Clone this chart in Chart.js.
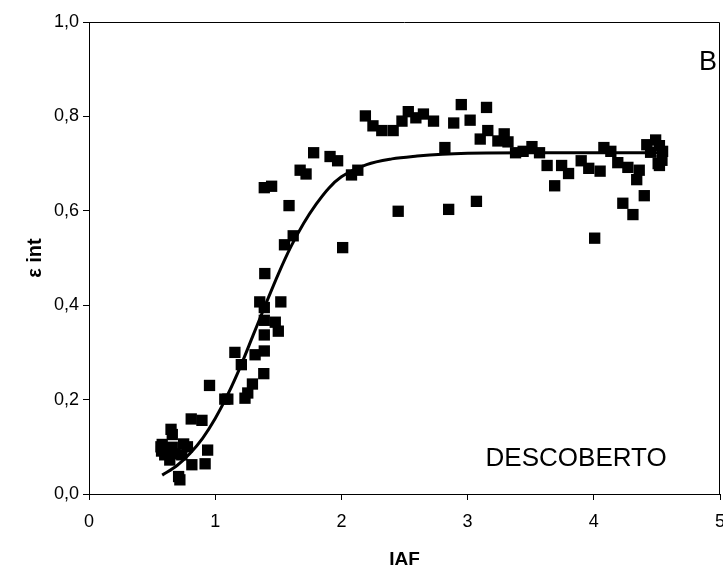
<!DOCTYPE html>
<html><head><meta charset="utf-8">
<script src="https://cdn.jsdelivr.net/npm/chart.js@4/dist/chart.umd.min.js"></script>
<style>html,body{margin:0;padding:0;background:#fff}#wrap{width:723px;height:572px}</style>
</head><body><div id="wrap"><canvas id="c" width="723" height="572"></canvas></div>
<script>
// Observed points (IAF, ε int)
const obsIaf = [0.58,0.575,0.60,0.65,0.66,0.64,0.66,0.71,0.72,0.75,0.78,0.735,0.815,0.81,0.895,0.92,0.94,0.955,0.57,0.62,0.68,
  1.076,1.10,1.156,1.207,1.236,1.258,1.295,1.316,1.353,1.385,1.389,1.389,1.389,1.389,1.393,1.389,1.447,1.476,1.50,1.52,1.549,1.585,1.618,
  1.673,1.72,1.78,1.91,1.97,2.01,2.08,2.13,2.19,2.25,2.32,2.41,2.45,2.48,2.53,2.59,2.65,2.73,2.82,2.85,2.89,2.95,3.02,3.07,3.10,3.15,3.16,
  3.24,3.29,3.32,3.38,3.44,3.51,3.57,3.63,3.69,3.745,3.80,3.90,3.96,4.007,4.05,4.08,4.135,4.19,4.23,4.27,4.31,4.34,4.36,4.40,4.42,4.45,
  4.49,4.52,4.54,4.52,4.545,4.51];
const obsEps = [0.105,0.091,0.083,0.137,0.126,0.072,0.099,0.037,0.030,0.106,0.100,0.083,0.062,0.159,0.156,0.064,0.093,0.230,0.100,0.095,0.085,
  0.201,0.201,0.300,0.274,0.203,0.214,0.233,0.295,0.407,0.255,0.303,0.337,0.368,0.395,0.467,0.649,0.652,0.364,0.345,0.407,0.528,0.611,0.547,
  0.686,0.678,0.723,0.715,0.706,0.522,0.676,0.686,0.801,0.780,0.770,0.770,0.599,0.790,0.810,0.797,0.805,0.790,0.734,0.603,0.786,0.825,0.792,0.620,0.752,0.819,0.770,
  0.748,0.763,0.746,0.723,0.726,0.736,0.723,0.696,0.653,0.696,0.679,0.706,0.690,0.542,0.684,0.734,0.726,0.702,0.616,0.692,0.592,0.666,0.686,0.632,0.740,0.724,
  0.750,0.738,0.707,0.696,0.726,0.700];
// Fitted curve
const fitIaf = [0.58,0.7,0.8,0.9,1.0,1.1,1.2,1.3,1.4,1.5,1.6,1.7,1.8,1.9,2.0,2.2,2.4,2.6,2.8,3.0,3.5,4.0,4.55];
const fitEps = [0.040,0.061,0.086,0.118,0.160,0.211,0.270,0.336,0.402,0.466,0.524,0.573,0.614,0.648,0.672,0.698,0.710,0.716,0.720,0.722,0.723,0.723,0.723];
const xTicks = [0,1,2,3,4,5];
const yTicks = [0,0.2,0.4,0.6,0.8,1.0];
const panelLabel = 'B';
const treatmentLabel = 'DESCOBERTO';

const FONT = "'Liberation Sans', Arial, sans-serif";

const framePlugin = {
  id: 'frame',
  afterDraw(chart) {
    const {ctx, chartArea: a, scales} = chart;
    ctx.save();
    ctx.strokeStyle = '#000';
    ctx.lineWidth = 1;
    ctx.beginPath();
    ctx.moveTo(Math.round(a.left) + 0.5, Math.round(a.top) + 0.5);
    ctx.lineTo(Math.round(a.right) - 0.5, Math.round(a.top) + 0.5);
    ctx.lineTo(Math.round(a.right) - 0.5, Math.round(a.bottom) + 0.5);
    ctx.stroke();
    ctx.fillStyle = '#000';
    ctx.textAlign = 'center';
    ctx.textBaseline = 'middle';
    ctx.font = '27px ' + FONT;
    ctx.fillText(panelLabel, scales.x.getPixelForValue(4.905), scales.y.getPixelForValue(0.915));
    ctx.font = '26px ' + FONT;
    ctx.fillText(treatmentLabel, scales.x.getPixelForValue(3.86), scales.y.getPixelForValue(0.074));
    ctx.restore();
  }
};

new Chart(document.getElementById('c'), {
  data: {
    datasets: [
      {
        type: 'line',
        data: fitIaf.map((x, i) => ({x, y: fitEps[i]})),
        borderColor: '#000',
        borderWidth: 3,
        pointRadius: 0,
        cubicInterpolationMode: 'monotone',
        fill: false
      },
      {
        type: 'scatter',
        data: obsIaf.map((x, i) => ({x, y: obsEps[i]})),
        pointStyle: 'rect',
        pointRadius: 8,
        backgroundColor: '#000',
        borderColor: '#000',
        borderWidth: 0
      }
    ]
  },
  options: {
    responsive: false,
    devicePixelRatio: 1,
    animation: false,
    layout: {autoPadding: false, padding: {top: 22, right: 3, left: 0, bottom: 0}},
    plugins: {legend: {display: false}, tooltip: {enabled: false}},
    scales: {
      x: {
        type: 'linear', min: 0, max: 5,
        afterBuildTicks: s => { s.ticks = xTicks.map(v => ({value: v})); },
        afterFit: s => { s.height = 78; s.paddingLeft = 0; s.paddingRight = 0; },
        grid: {display: true, drawOnChartArea: false, drawTicks: true, tickLength: 6, color: '#000'},
        border: {display: true, color: '#000', width: 1},
        ticks: {color: '#000', font: {family: FONT, size: 18}, padding: 11, maxRotation: 0, callback: v => String(v)},
        title: {display: true, text: 'IAF', color: '#000', font: {family: FONT, size: 19, weight: 'bold'}, padding: {top: 0, bottom: 1}}
      },
      y: {
        type: 'linear', min: 0, max: 1,
        afterBuildTicks: s => { s.ticks = yTicks.map(v => ({value: v})); },
        afterFit: s => { s.width = 89; s.paddingTop = 0; s.paddingBottom = 0; },
        grid: {display: true, drawOnChartArea: false, drawTicks: true, tickLength: 6, color: '#000'},
        border: {display: true, color: '#000', width: 1},
        ticks: {color: '#000', font: {family: FONT, size: 18}, padding: 4, callback: v => v.toFixed(1).replace('.', ',')},
        title: {display: true, text: 'ε int', color: '#000', font: {family: FONT, size: 20, weight: 'bold'}, padding: {top: 23, bottom: 0}}
      }
    }
  },
  plugins: [framePlugin]
});
</script>
</body></html>
